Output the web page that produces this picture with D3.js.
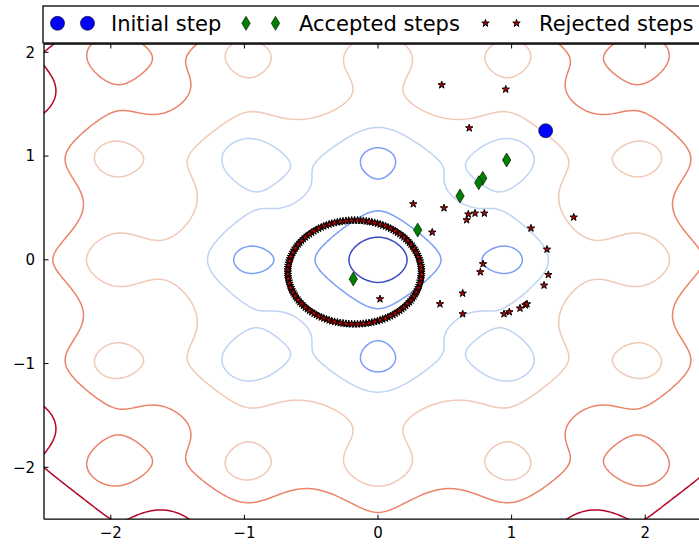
<!DOCTYPE html>
<html>
<head>
<meta charset="utf-8">
<script src="https://cdn.jsdelivr.net/npm/d3@7"></script>
<style>
  body { margin: 0; background: #fff; }
  svg { display: block; font-family: "DejaVu Sans", sans-serif; }
</style>
</head>
<body>
<div id="chart"></div>
<script>
// ---- data ----
var initX = [1.255];
var initY = [1.244];

var accX = [0.963, 0.784, 0.754, 0.614, 0.297, -0.185];
var accY = [0.962, 0.786, 0.743, 0.615, 0.287, -0.185];

var rejX = [0.477, 0.956, 0.683, 0.264, 0.494, 0.676, 0.726, 0.796, 0.664, 0.406,
            1.465, 1.145, 1.265, 0.786, 0.766, 1.275, 1.243, 0.634, 0.464, 0.634,
            0.943, 0.983, 1.063, 1.103, 1.115, 0.015];
var rejY = [1.685, 1.643, 1.270, 0.538, 0.499, 0.439, 0.448, 0.448, 0.384, 0.265,
            0.410, 0.304, 0.101, -0.040, -0.118, -0.144, -0.246, -0.323, -0.426, -0.522,
            -0.522, -0.503, -0.467, -0.436, -0.426, -0.378];

// the dense ring of rejected proposals around the last accepted point
var ringX = [0.325, 0.323, 0.317, 0.308, 0.295, 0.278, 0.258, 0.235, 0.208, 0.179,
             0.146, 0.112, 0.075, 0.036, -0.004, -0.046, -0.088, -0.131, -0.175, -0.219,
             -0.262, -0.304, -0.346, -0.386, -0.425, -0.462, -0.496, -0.529, -0.558, -0.585,
             -0.608, -0.628, -0.645, -0.658, -0.667, -0.673, -0.675, -0.673, -0.667, -0.658,
             -0.645, -0.628, -0.608, -0.585, -0.558, -0.529, -0.496, -0.462, -0.425, -0.386,
             -0.346, -0.304, -0.262, -0.219, -0.175, -0.131, -0.088, -0.046, -0.004, 0.036,
             0.075, 0.112, 0.146, 0.179, 0.208, 0.235, 0.258, 0.278, 0.295, 0.308,
             0.317, 0.323];
var ringY = [-0.120, -0.076, -0.033, 0.009, 0.051, 0.091, 0.130, 0.167, 0.201, 0.234,
             0.263, 0.290, 0.313, 0.333, 0.350, 0.363, 0.372, 0.378, 0.380, 0.378,
             0.372, 0.363, 0.350, 0.333, 0.313, 0.290, 0.263, 0.234, 0.201, 0.167,
             0.130, 0.091, 0.051, 0.009, -0.033, -0.076, -0.120, -0.164, -0.207, -0.249,
             -0.291, -0.331, -0.370, -0.407, -0.441, -0.474, -0.503, -0.530, -0.553, -0.573,
             -0.590, -0.603, -0.612, -0.618, -0.620, -0.618, -0.612, -0.603, -0.590, -0.573,
             -0.553, -0.530, -0.503, -0.474, -0.441, -0.407, -0.370, -0.331, -0.291, -0.249,
             -0.207, -0.164];
var ring2X = [0.325, 0.321, 0.313, 0.302, 0.287, 0.269, 0.247, 0.222, 0.194, 0.163,
              0.129, 0.094, 0.056, 0.016, -0.025, -0.067, -0.110, -0.153, -0.197, -0.240,
              -0.283, -0.325, -0.366, -0.406, -0.444, -0.479, -0.513, -0.544, -0.572, -0.597,
              -0.619, -0.637, -0.652, -0.663, -0.671, -0.675, -0.675, -0.671, -0.663, -0.652,
              -0.637, -0.619, -0.597, -0.572, -0.544, -0.513, -0.479, -0.444, -0.406, -0.366,
              -0.325, -0.283, -0.240, -0.197, -0.153, -0.110, -0.067, -0.025, 0.016, 0.056,
              0.094, 0.129, 0.163, 0.194, 0.222, 0.247, 0.269, 0.287, 0.302, 0.313,
              0.321, 0.325];
var ring2Y = [-0.098, -0.055, -0.012, 0.030, 0.071, 0.111, 0.149, 0.184, 0.218, 0.249,
              0.277, 0.302, 0.324, 0.342, 0.357, 0.368, 0.376, 0.380, 0.380, 0.376,
              0.368, 0.357, 0.342, 0.324, 0.302, 0.277, 0.249, 0.218, 0.184, 0.149,
              0.111, 0.071, 0.030, -0.012, -0.055, -0.098, -0.142, -0.185, -0.228, -0.270,
              -0.311, -0.351, -0.389, -0.424, -0.458, -0.489, -0.517, -0.542, -0.564, -0.582,
              -0.597, -0.608, -0.616, -0.620, -0.620, -0.616, -0.608, -0.597, -0.582, -0.564,
              -0.542, -0.517, -0.489, -0.458, -0.424, -0.389, -0.351, -0.311, -0.270, -0.228,
              -0.185, -0.142];

var levels = [1.5, 3.0, 4.5, 6.0, 7.5, 9.0];
var xTicks = [-2, -1, 0, 1, 2];
var yTicks = [-2, -1, 0, 1, 2];
var legendLabels = ['Initial step', 'Accepted steps', 'Rejected steps'];

// surface behind the contours (Ackley function)
function ackley(px, py) {
  return -20 * Math.exp(-0.2 * Math.sqrt(0.5 * (px * px + py * py))) -
    Math.exp(0.5 * (Math.cos(2 * Math.PI * px) + Math.cos(2 * Math.PI * py))) + Math.E + 20;
}

// ---- layout ----
var width = 699, height = 544;
var plotLeft = 44, plotTop = 44, plotBottom = 519.2;

var x = d3.scaleLinear().domain([-2.5, 2.5]).range([plotLeft, 712]);
var y = d3.scaleLinear().domain([-2.5, 2.08]).range([plotBottom, plotTop]);

// coolwarm colormap
var coolwarm = d3.scaleLinear()
  .domain(d3.range(9).map(function(i) { return i / 8; }))
  .range(['#3b4cc0', '#6282ea', '#8db0fe', '#b8d0f9', '#dddddd',
          '#f5c4ad', '#f49a7b', '#de604d', '#b40426']);
var levelColor = d3.scaleLinear().domain([levels[0], levels[levels.length - 1]]).range([0, 1]);

var svg = d3.select('#chart').append('svg')
  .attr('width', width)
  .attr('height', height);

svg.append('defs').append('clipPath').attr('id', 'plot-clip')
  .append('rect')
  .attr('x', plotLeft).attr('y', plotTop)
  .attr('width', width - plotLeft).attr('height', plotBottom - plotTop);

var plot = svg.append('g').attr('clip-path', 'url(#plot-clip)');

// contours, grid a bit larger than the view so border edges fall outside the clip
var g0 = -3, gStep = 0.02, gN = 301;
var values = new Float64Array(gN * gN);
for (var j = 0; j < gN; j++) {
  for (var i = 0; i < gN; i++) {
    values[j * gN + i] = ackley(g0 + i * gStep, g0 + j * gStep);
  }
}
var contours = d3.contours().size([gN, gN]).thresholds(levels)(values);

var toPx = d3.geoTransform({
  point: function(cx, cy) {
    this.stream.point(x(g0 + (cx - 0.5) * gStep), y(g0 + (cy - 0.5) * gStep));
  }
});
var path = d3.geoPath(toPx);

plot.selectAll('path.contour')
  .data(contours)
  .enter().append('path')
  .attr('class', 'contour')
  .attr('d', path)
  .attr('fill', 'none')
  .attr('stroke', function(d) { return coolwarm(levelColor(d.value)); })
  .attr('stroke-width', 1.5)
  .attr('stroke-linejoin', 'round');

// markers
var starPath = d3.symbol().type(d3.symbolStar).size(17)();
var diamondPath = 'M0,-7L4.2,0L0,7L-4.2,0Z';

function drawCircle(g, cx, cy) {
  g.append('circle')
    .attr('cx', cx).attr('cy', cy).attr('r', 7)
    .attr('fill', '#0000ff')
    .attr('stroke', '#000')
    .attr('stroke-width', 0.6);
}
function drawDiamond(g, cx, cy) {
  g.append('path')
    .attr('d', diamondPath)
    .attr('transform', 'translate(' + cx + ',' + cy + ')')
    .attr('fill', '#008000')
    .attr('stroke', '#000')
    .attr('stroke-width', 0.6);
}
function drawStar(g, cx, cy) {
  g.append('path')
    .attr('d', starPath)
    .attr('transform', 'translate(' + cx + ',' + cy + ')')
    .attr('fill', '#c00000')
    .attr('stroke', '#000')
    .attr('stroke-width', 1);
}

initX.forEach(function(v, k) { drawCircle(plot, x(v), y(initY[k])); });
accX.forEach(function(v, k) { drawDiamond(plot, x(v), y(accY[k])); });
rejX.forEach(function(v, k) { drawStar(plot, x(v), y(rejY[k])); });
ringX.forEach(function(v, k) { drawStar(plot, x(v), y(ringY[k])); });
ring2X.forEach(function(v, k) { drawStar(plot, x(v), y(ring2Y[k])); });

// axes frame and ticks
var axes = svg.append('g');
axes.append('line').attr('x1', plotLeft).attr('x2', width).attr('y1', plotTop).attr('y2', plotTop);
axes.append('line').attr('x1', plotLeft).attr('x2', width).attr('y1', plotBottom).attr('y2', plotBottom);
axes.append('line').attr('x1', plotLeft).attr('x2', plotLeft).attr('y1', plotTop).attr('y2', plotBottom);
axes.selectAll('line').attr('stroke', '#000').attr('stroke-width', 1.3);

var tickLen = 4.5;
xTicks.forEach(function(t) {
  axes.append('line')
    .attr('x1', x(t)).attr('x2', x(t))
    .attr('y1', plotBottom).attr('y2', plotBottom - tickLen)
    .attr('stroke', '#000').attr('stroke-width', 1);
  axes.append('line')
    .attr('x1', x(t)).attr('x2', x(t))
    .attr('y1', plotTop).attr('y2', plotTop + tickLen)
    .attr('stroke', '#000').attr('stroke-width', 1);
  axes.append('text')
    .attr('x', x(t)).attr('y', 538)
    .attr('text-anchor', 'middle')
    .style('font-size', '15px')
    .text(d3.format('d')(t).replace('-', '\u2212'));
});
yTicks.forEach(function(t) {
  axes.append('line')
    .attr('x1', plotLeft).attr('x2', plotLeft + tickLen)
    .attr('y1', y(t)).attr('y2', y(t))
    .attr('stroke', '#000').attr('stroke-width', 1);
  axes.append('text')
    .attr('x', 35).attr('y', y(t) + 5.4)
    .attr('text-anchor', 'end')
    .style('font-size', '15px')
    .text(d3.format('d')(t).replace('-', '\u2212'));
});

// legend
var legend = svg.append('g');
legend.append('rect')
  .attr('x', 43).attr('y', 6)
  .attr('width', 680).attr('height', 37)
  .attr('fill', '#fff')
  .attr('stroke', '#000')
  .attr('stroke-width', 1.3);

var legY = 23.3;
drawCircle(legend, 57.5, legY);
drawCircle(legend, 87.5, legY);
drawDiamond(legend, 246, legY);
drawDiamond(legend, 275.5, legY);
drawStar(legend, 485.5, legY);
drawStar(legend, 516.5, legY);

var legTextX = [111, 299, 539];
legendLabels.forEach(function(label, k) {
  legend.append('text')
    .attr('x', legTextX[k]).attr('y', 30.5)
    .style('font-size', '21px')
    .attr('fill', '#000')
    .text(label);
});
</script>
</body>
</html>
